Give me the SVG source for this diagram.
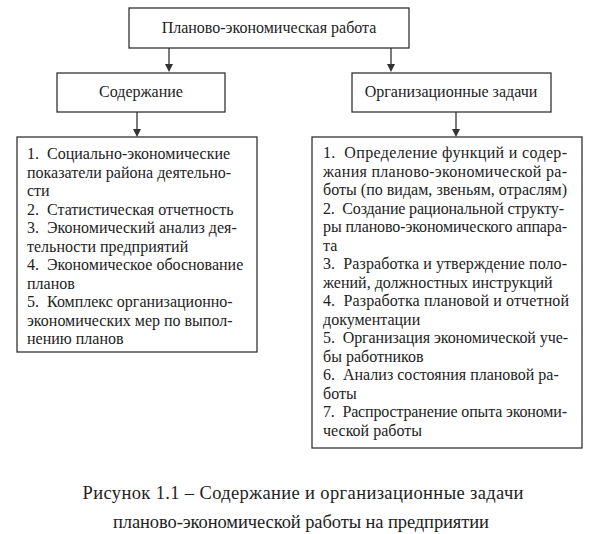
<svg xmlns="http://www.w3.org/2000/svg" width="606" height="534" viewBox="0 0 606 534">
<style>
.box{fill:#fff;stroke:#333;stroke-width:1.3}
.t{font-family:'Liberation Serif','Times New Roman',serif;font-size:16px;fill:#222}
.c{text-anchor:middle}
.cap{font-family:'Liberation Serif','Times New Roman',serif;font-size:18.5px;fill:#222;text-anchor:middle}
.con{stroke:#333;stroke-width:1.3;fill:none}
.ah{fill:#333}
</style>
<rect width="606" height="534" fill="#fff"/>
<g id="connectors">
<line class="con" x1="169" y1="48" x2="169" y2="64"/><path class="ah" d="M165,64 L173,64 L169,72 Z"/>
<line class="con" x1="391" y1="48" x2="391" y2="64"/><path class="ah" d="M387,64 L395,64 L391,72 Z"/>
<line class="con" x1="137" y1="112" x2="137" y2="129"/><path class="ah" d="M133,129 L141,129 L137,137 Z"/>
<line class="con" x1="456" y1="112" x2="456" y2="129"/><path class="ah" d="M452,129 L460,129 L456,137 Z"/>
</g>
<g id="root">
<rect class="box" x="129" y="8" width="280" height="40"/>
<text class="t c" x="269" y="33">Планово-экономическая работа</text>
</g>
<g id="content">
<rect class="box" x="57" y="73" width="168" height="39"/>
<text class="t c" x="141" y="97">Содержание</text>
</g>
<g id="tasks">
<rect class="box" x="352" y="73" width="199" height="39"/>
<text class="t c" x="451" y="97">Организационные задачи</text>
</g>
<g id="content-list">
<rect class="box" x="17" y="137" width="240" height="215"/>
<text class="t" x="27" y="159">1.&#160; Социально-экономические</text>
<text class="t" x="27" y="177.5">показатели района деятельно-</text>
<text class="t" x="27" y="196">сти</text>
<text class="t" x="27" y="214.5">2.&#160; Статистическая отчетность</text>
<text class="t" x="27" y="233">3.&#160; Экономический анализ дея-</text>
<text class="t" x="27" y="251.5">тельности предприятий</text>
<text class="t" x="27" y="270">4.&#160; Экономическое обоснование</text>
<text class="t" x="27" y="288.5">планов</text>
<text class="t" x="27" y="307">5.&#160; Комплекс организационно-</text>
<text class="t" x="27" y="325.5">экономических мер по выпол-</text>
<text class="t" x="27" y="344">нению планов</text>
</g>
<g id="tasks-list">
<rect class="box" x="312" y="137" width="270" height="311"/>
<text class="t" x="323" y="158" textLength="244" lengthAdjust="spacing">1.&#160; Определение функций и содер-</text>
<text class="t" x="323" y="176.5" textLength="244" lengthAdjust="spacing">жания планово-экономической ра-</text>
<text class="t" x="323" y="195" textLength="244" lengthAdjust="spacing">боты (по видам, звеньям, отраслям)</text>
<text class="t" x="323" y="213.5" textLength="241" lengthAdjust="spacing">2.&#160; Создание рациональной структу-</text>
<text class="t" x="323" y="232" textLength="244" lengthAdjust="spacing">ры планово-экономического аппара-</text>
<text class="t" x="323" y="250.5">та</text>
<text class="t" x="323" y="269" textLength="244" lengthAdjust="spacing">3.&#160; Разработка и утверждение поло-</text>
<text class="t" x="323" y="287.5">жений, должностных инструкций</text>
<text class="t" x="323" y="306" textLength="246" lengthAdjust="spacing">4.&#160; Разработка плановой и отчетной</text>
<text class="t" x="323" y="324.5">документации</text>
<text class="t" x="323" y="343" textLength="245" lengthAdjust="spacing">5.&#160; Организация экономической уче-</text>
<text class="t" x="323" y="361.5">бы работников</text>
<text class="t" x="323" y="380">6.&#160; Анализ состояния плановой ра-</text>
<text class="t" x="323" y="398.5">боты</text>
<text class="t" x="323" y="417" textLength="244" lengthAdjust="spacing">7.&#160; Распространение опыта экономи-</text>
<text class="t" x="323" y="435.5">ческой работы</text>
</g>
<g id="caption">
<text class="cap" x="303" y="499" textLength="441" lengthAdjust="spacing">Рисунок 1.1 – Содержание и организационные задачи</text>
<text class="cap" x="301" y="528" textLength="376" lengthAdjust="spacing">планово-экономической работы на предприятии</text>
</g>
</svg>
